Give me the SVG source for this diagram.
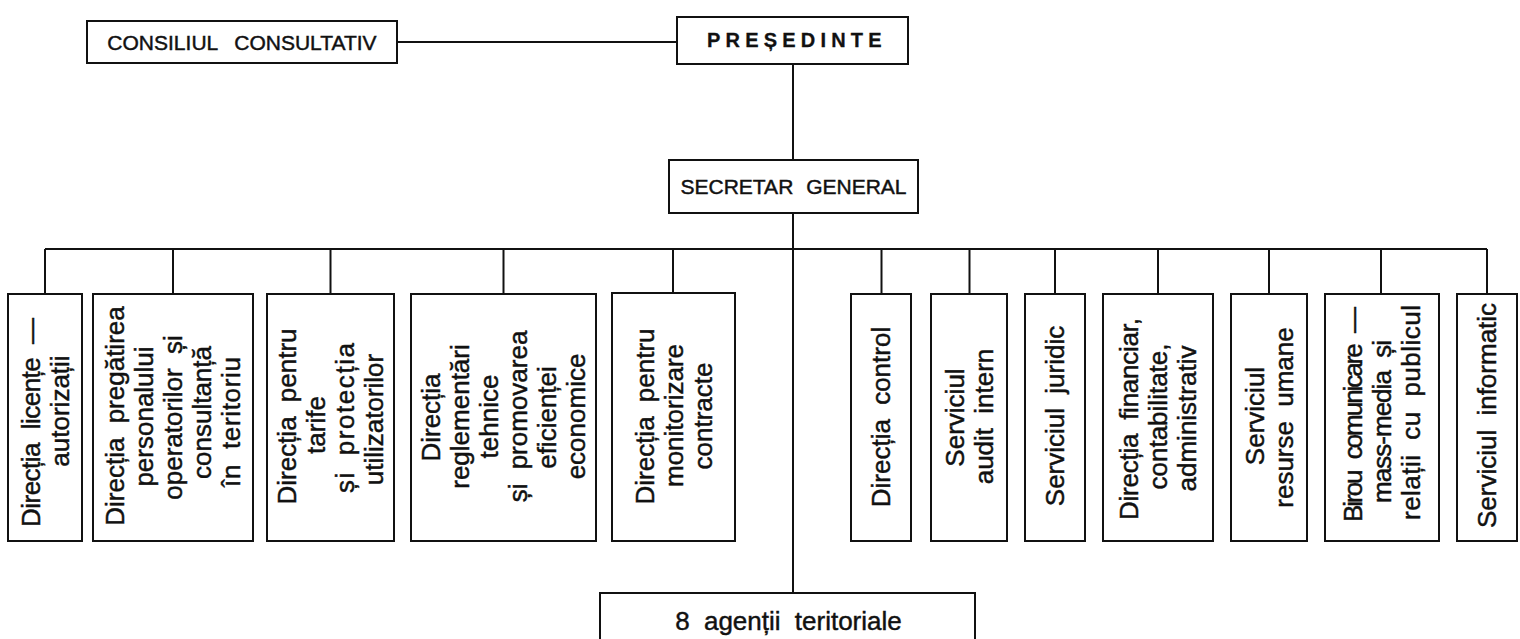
<svg xmlns="http://www.w3.org/2000/svg" width="1520" height="639" viewBox="0 0 1520 639">
<style>
rect.box{fill:#fff;stroke:#111;stroke-width:2}
.conn line{stroke:#111;stroke-width:2}
text{font-family:"Liberation Sans",Arial,sans-serif;fill:#111;stroke:#111;stroke-width:0.45px}
.h{font-size:21px;word-spacing:7px;text-anchor:middle}
.v{font-size:26px;word-spacing:7px;text-anchor:middle}
.b{font-size:20px;font-weight:bold;letter-spacing:5.2px;stroke-width:0.3px}
</style>
<rect width="1520" height="639" fill="#fff"/>
<g class="conn" id="connectors">
<line x1="397" y1="42" x2="677" y2="42"/>
<line x1="793" y1="64" x2="793" y2="160"/>
<line x1="793" y1="213" x2="793" y2="593"/>
<line x1="45" y1="249" x2="1487" y2="249"/>
<line x1="45" y1="249" x2="45" y2="294"/>
<line x1="173" y1="249" x2="173" y2="294"/>
<line x1="330.5" y1="249" x2="330.5" y2="294"/>
<line x1="503.5" y1="249" x2="503.5" y2="294"/>
<line x1="673" y1="249" x2="673" y2="293"/>
<line x1="881.5" y1="249" x2="881.5" y2="294"/>
<line x1="969.5" y1="249" x2="969.5" y2="294"/>
<line x1="1055" y1="249" x2="1055" y2="294"/>
<line x1="1158" y1="249" x2="1158" y2="294"/>
<line x1="1269" y1="249" x2="1269" y2="294"/>
<line x1="1381" y1="249" x2="1381" y2="294"/>
<line x1="1487" y1="249" x2="1487" y2="294"/>
</g>
<g id="consiliul">
<rect class="box" x="87" y="21" width="310" height="42"/>
<text class="h" x="242" y="49.5" style="word-spacing:11px">CONSILIUL CONSULTATIV</text>
</g>
<g id="presedinte">
<rect class="box" x="677" y="17" width="231" height="47"/>
<text class="b" x="707" y="47">PREȘEDINTE</text>
</g>
<g id="secretar">
<rect class="box" x="669" y="160" width="249" height="53"/>
<text class="h" x="793.5" y="194">SECRETAR GENERAL</text>
</g>
<g id="agentii">
<rect class="box" x="600" y="593" width="375" height="60"/>
<text class="v" x="788.5" y="630">8 agenții teritoriale</text>
</g>
<g id="licente">
<rect class="box" x="8" y="294" width="74" height="247"/>
<text class="v" transform="translate(45,417.5) rotate(-90)"><tspan x="-5" y="-5.5" textLength="209" lengthAdjust="spacing">Direcția licențe —</tspan><tspan x="6.5" y="23.5">autorizații</tspan></text>
</g>
<g id="pregatirea">
<rect class="box" x="93" y="294" width="160" height="247"/>
<text class="v" transform="translate(173,417.5) rotate(-90)"><tspan x="1.5" y="-49">Direcția pregătirea</tspan><tspan x="1" y="-20">personalului</tspan><tspan x="0" y="9">operatorilor și</tspan><tspan x="5" y="38">consultanță</tspan><tspan x="-4.5" y="67" textLength="130" lengthAdjust="spacing">în teritoriu</tspan></text>
</g>
<g id="tarife">
<rect class="box" x="267" y="294" width="127" height="247"/>
<text class="v" transform="translate(330.5,417.5) rotate(-90)"><tspan x="1" y="-34.5">Direcția pentru</tspan><tspan x="-7.5" y="-5.5">tarife</tspan><tspan x="-0.5" y="23.5" textLength="150" lengthAdjust="spacing">și protecția</tspan><tspan x="-2" y="52.5">utilizatorilor</tspan></text>
</g>
<g id="reglementari">
<rect class="box" x="411" y="294" width="185" height="247"/>
<text class="v" transform="translate(503.5,417.5) rotate(-90)"><tspan x="0" y="-63.5">Direcția</tspan><tspan x="1" y="-34.5">reglementări</tspan><tspan x="1" y="-5.5">tehnice</tspan><tspan x="1" y="23.5">și promovarea</tspan><tspan x="0" y="52.5">eficienței</tspan><tspan x="1" y="81.5">economice</tspan></text>
</g>
<g id="monitorizare">
<rect class="box" x="612" y="293" width="123" height="248"/>
<text class="v" transform="translate(673.5,417.5) rotate(-90)"><tspan x="1" y="-20">Direcția pentru</tspan><tspan x="2" y="9">monitorizare</tspan><tspan x="1.5" y="38">contracte</tspan></text>
</g>
<g id="control">
<rect class="box" x="851" y="294" width="60" height="247"/>
<text class="v" transform="translate(881,417.5) rotate(-90)"><tspan x="0.5" y="9">Direcția control</tspan></text>
</g>
<g id="audit">
<rect class="box" x="931" y="294" width="76" height="247"/>
<text class="v" transform="translate(969,417.5) rotate(-90)"><tspan x="0" y="-5.5">Serviciul</tspan><tspan x="1" y="23.5">audit intern</tspan></text>
</g>
<g id="juridic">
<rect class="box" x="1025" y="294" width="60" height="247"/>
<text class="v" transform="translate(1055,417.5) rotate(-90)"><tspan x="1.5" y="9">Serviciul juridic</tspan></text>
</g>
<g id="financiar">
<rect class="box" x="1103" y="294" width="110" height="247"/>
<text class="v" transform="translate(1158,417.5) rotate(-90)"><tspan x="-1.5" y="-20" textLength="202" lengthAdjust="spacing">Direcția financiar,</tspan><tspan x="1" y="9">contabilitate,</tspan><tspan x="-1" y="38">administrativ</tspan></text>
</g>
<g id="resurse">
<rect class="box" x="1231" y="294" width="76" height="247"/>
<text class="v" transform="translate(1269,417.5) rotate(-90)"><tspan x="1.5" y="-5.5">Serviciul</tspan><tspan x="0" y="23.5">resurse umane</tspan></text>
</g>
<g id="birou">
<rect class="box" x="1325" y="294" width="114" height="247"/>
<text class="v" transform="translate(1382,417.5) rotate(-90)"><tspan x="3" y="-20" textLength="215" lengthAdjust="spacing">Birou comunicare —</tspan><tspan x="-4" y="9" textLength="163" lengthAdjust="spacing">mass-media și</tspan><tspan x="5" y="38" textLength="215" lengthAdjust="spacing">relații cu publicul</tspan></text>
</g>
<g id="informatic">
<rect class="box" x="1457" y="294" width="60" height="247"/>
<text class="v" transform="translate(1487,417.5) rotate(-90)"><tspan x="2" y="9">Serviciul informatic</tspan></text>
</g>
</svg>
